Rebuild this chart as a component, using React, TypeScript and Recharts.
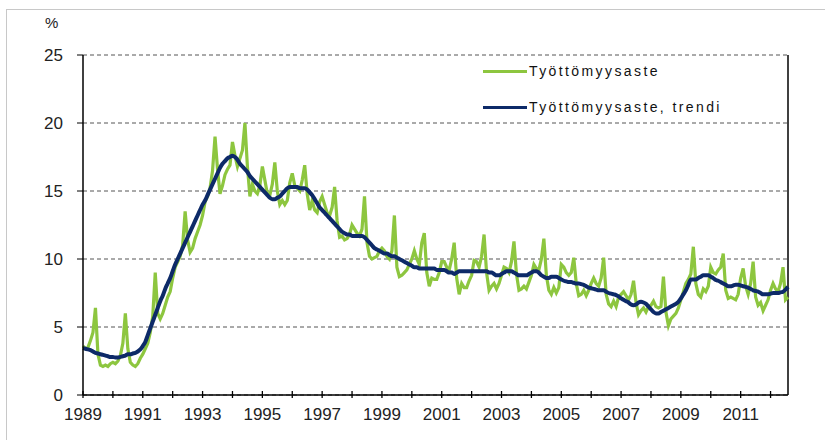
import { LineChart, Line, XAxis, YAxis, CartesianGrid, Legend, ReferenceLine } from "recharts";

// monthly series, Jan 1989 - Aug 2012
const startYear = 1989;

const yearTicks = [
  1989, 1990, 1991, 1992, 1993, 1994, 1995, 1996, 1997, 1998, 1999, 2000,
  2001, 2002, 2003, 2004, 2005, 2006, 2007, 2008, 2009, 2010, 2011, 2012,
];
const yearLabels = [1989, 1991, 1993, 1995, 1997, 1999, 2001, 2003, 2005, 2007, 2009, 2011];
const yTicks = [0, 5, 10, 15, 20, 25];

const rate = [
  3.6, 3.4, 3.5, 4.0, 4.6, 6.4, 3.0, 2.2, 2.1, 2.2, 2.1, 2.3, // 1989
  2.4, 2.3, 2.5, 2.9, 3.8, 6.0, 3.4, 2.4, 2.2, 2.1, 2.3, 2.7, // 1990
  3.0, 3.4, 3.8, 4.6, 5.8, 9.0, 6.0, 5.6, 6.0, 6.6, 7.2, 7.6, // 1991
  8.6, 9.4, 9.8, 10.2, 11.0, 13.5, 11.4, 10.5, 10.8, 11.5, 12.0, 12.5, // 1992
  13.2, 14.2, 14.6, 15.2, 16.5, 19.0, 16.6, 14.8, 15.4, 16.2, 16.6, 16.9, // 1993
  18.6, 17.6, 16.8, 17.4, 18.0, 20.0, 16.8, 14.6, 15.5, 15.0, 14.8, 15.4, // 1994
  16.8, 15.8, 14.8, 14.7, 15.5, 17.1, 15.0, 14.0, 14.3, 14.0, 14.3, 15.6, // 1995
  16.3, 15.4, 15.2, 15.0, 15.8, 16.9, 14.8, 13.6, 14.3, 13.6, 13.4, 14.2, // 1996
  14.6, 14.0, 13.4, 13.2, 13.8, 15.3, 12.8, 11.6, 11.7, 11.4, 11.5, 11.8, // 1997
  12.5, 12.2, 11.9, 11.7, 12.2, 14.6, 11.2, 10.2, 10.0, 10.1, 10.2, 10.6, // 1998
  10.8, 10.6, 10.2, 10.0, 10.6, 13.2, 9.4, 8.7, 8.8, 9.0, 9.2, 9.6, // 1999
  10.0, 10.6, 10.0, 9.6, 11.2, 11.9, 9.0, 8.0, 8.6, 8.5, 8.5, 9.0, // 2000
  9.8, 9.8, 9.4, 9.2, 10.0, 11.2, 8.6, 7.4, 8.2, 7.9, 7.9, 8.4, // 2001
  8.8, 9.9, 9.8, 9.4, 10.2, 11.8, 9.0, 7.7, 8.0, 8.2, 7.8, 8.2, // 2002
  8.8, 9.4, 9.3, 9.0, 9.8, 11.3, 8.9, 7.7, 7.8, 8.0, 7.8, 8.3, // 2003
  8.8, 9.6, 9.3, 9.2, 10.0, 11.5, 8.8, 7.7, 7.4, 7.9, 7.5, 7.9, // 2004
  9.6, 9.4, 9.0, 8.8, 9.0, 10.1, 8.2, 7.3, 7.4, 7.7, 7.3, 7.7, // 2005
  8.2, 8.6, 8.2, 8.0, 8.6, 10.1, 7.4, 6.7, 6.5, 6.9, 6.5, 7.2, // 2006
  7.4, 7.6, 7.3, 7.0, 7.4, 8.4, 6.8, 5.9, 6.2, 6.4, 6.1, 6.5, // 2007
  6.6, 6.9, 6.5, 6.4, 6.5, 8.7, 6.1, 5.1, 5.6, 5.8, 6.0, 6.4, // 2008
  7.0, 7.6, 8.2, 8.5, 8.9, 10.9, 8.2, 7.4, 7.2, 7.8, 7.6, 8.0, // 2009
  9.4, 9.0, 8.9, 9.2, 9.4, 10.4, 7.7, 7.1, 7.2, 7.1, 7.0, 7.4, // 2010
  8.6, 9.3, 8.0, 7.4, 8.2, 9.8, 7.2, 6.6, 6.8, 6.2, 6.6, 7.0, // 2011
  7.7, 8.2, 7.8, 7.6, 8.2, 9.4, 7.0, 7.2, // 2012
];

const trend = [
  3.45, 3.4, 3.35, 3.3, 3.2, 3.1, 3.05, 3.0, 2.95, 2.9, 2.85, 2.8, // 1989
  2.8, 2.75, 2.75, 2.8, 2.85, 2.9, 3.0, 3.0, 3.05, 3.1, 3.2, 3.35, // 1990
  3.6, 3.9, 4.4, 4.9, 5.4, 5.9, 6.4, 6.9, 7.3, 7.8, 8.2, 8.6, // 1991
  9.1, 9.6, 10.0, 10.4, 10.8, 11.2, 11.6, 12.0, 12.4, 12.8, 13.2, 13.6, // 1992
  14.0, 14.3, 14.7, 15.1, 15.5, 15.9, 16.3, 16.7, 17.0, 17.2, 17.4, 17.5, // 1993
  17.6, 17.5, 17.3, 17.0, 16.8, 16.6, 16.4, 16.1, 15.9, 15.7, 15.5, 15.3, // 1994
  15.1, 14.9, 14.7, 14.5, 14.4, 14.4, 14.5, 14.6, 14.8, 15.0, 15.2, 15.3, // 1995
  15.3, 15.3, 15.3, 15.2, 15.2, 15.2, 15.1, 14.9, 14.7, 14.4, 14.1, 13.8, // 1996
  13.6, 13.4, 13.2, 13.0, 12.8, 12.6, 12.4, 12.2, 12.0, 11.9, 11.8, 11.8, // 1997
  11.7, 11.7, 11.7, 11.7, 11.7, 11.6, 11.4, 11.2, 11.0, 10.8, 10.7, 10.6, // 1998
  10.5, 10.4, 10.4, 10.3, 10.2, 10.2, 10.1, 10.0, 9.9, 9.8, 9.7, 9.6, // 1999
  9.5, 9.4, 9.4, 9.3, 9.3, 9.3, 9.3, 9.3, 9.3, 9.3, 9.2, 9.2, // 2000
  9.2, 9.2, 9.1, 9.0, 9.0, 8.9, 9.0, 9.1, 9.1, 9.1, 9.1, 9.1, // 2001
  9.1, 9.1, 9.1, 9.1, 9.1, 9.1, 9.1, 9.0, 9.0, 8.9, 8.8, 8.8, // 2002
  8.9, 9.0, 9.1, 9.1, 9.1, 9.0, 8.9, 8.8, 8.8, 8.8, 8.8, 8.9, // 2003
  9.0, 9.1, 9.1, 9.0, 8.8, 8.7, 8.6, 8.6, 8.7, 8.7, 8.7, 8.6, // 2004
  8.5, 8.4, 8.35, 8.3, 8.3, 8.25, 8.2, 8.2, 8.15, 8.1, 8.0, 7.9, // 2005
  7.85, 7.8, 7.75, 7.7, 7.7, 7.7, 7.6, 7.5, 7.45, 7.4, 7.35, 7.25, // 2006
  7.1, 7.0, 6.9, 6.8, 6.65, 6.6, 6.65, 6.8, 6.85, 6.8, 6.7, 6.5, // 2007
  6.3, 6.1, 6.0, 6.0, 6.1, 6.2, 6.3, 6.4, 6.5, 6.6, 6.7, 6.85, // 2008
  7.1, 7.4, 7.7, 8.1, 8.5, 8.5, 8.5, 8.6, 8.7, 8.8, 8.8, 8.8, // 2009
  8.7, 8.6, 8.45, 8.4, 8.3, 8.2, 8.1, 8.0, 8.0, 8.05, 8.1, 8.1, // 2010
  8.05, 8.0, 7.95, 7.9, 7.8, 7.7, 7.65, 7.6, 7.5, 7.4, 7.4, 7.4, // 2011
  7.45, 7.5, 7.5, 7.5, 7.55, 7.6, 7.75, 7.95, // 2012
];

const data = rate.map((v, i) => ({ m: i, rate: v, trend: trend[i] }));
const lastMonth = data.length - 1;

const GREEN = "#8DC63F";
const NAVY = "#0D2A68";
const FONT = "'Liberation Sans', Arial, sans-serif";

const YearTick = ({ x, y, payload }: any) => {
  const year = startYear + payload.value / 12;
  return (
    <g>
      <line x1={x} x2={x} y1={y - 4} y2={y + 3} stroke="#000" strokeWidth={1.3} />
      {yearLabels.includes(year) && (
        <text x={x} y={y + 25} textAnchor="middle" fontSize={17} fontFamily={FONT} fill="#222">
          {year}
        </text>
      )}
    </g>
  );
};

const LegendBox = () => {
  const items = [
    { name: "Työttömyysaste", color: GREEN },
    { name: "Työttömyysaste, trendi", color: NAVY },
  ];
  return (
    <div style={{ fontFamily: FONT }}>
      {items.map((it, i) => (
        <div key={it.name} style={{ display: "flex", alignItems: "center", height: 18, marginTop: i ? 18 : 0 }}>
          <span style={{ display: "inline-block", width: 44, height: 3, background: it.color }} />
          <span style={{ fontSize: 14, letterSpacing: 2.4, color: "#111", marginLeft: 2 }}>{it.name}</span>
        </div>
      ))}
    </div>
  );
};

export default function App() {
  return (
    <div style={{ position: "absolute", left: 0, top: 0, width: 825, height: 440, background: "#fff" }}>
      <div
        style={{
          position: "absolute",
          left: 6,
          top: 9,
          right: 0,
          bottom: 0,
          borderTop: "1px solid #c8c8c8",
          borderLeft: "1px solid #c8c8c8",
        }}
      />
      <div style={{ position: "absolute", left: 45, top: 14, fontSize: 15, fontFamily: FONT, color: "#222" }}>%</div>
      <LineChart
        width={825}
        height={440}
        data={data}
        margin={{ top: 55, right: 37, bottom: 0, left: 0 }}
        style={{ position: "absolute", left: 0, top: 0 }}
      >
        <CartesianGrid vertical={false} stroke="#555" strokeDasharray="4 3" />
        <XAxis
          type="number"
          dataKey="m"
          domain={[0, lastMonth]}
          ticks={yearTicks.map((y) => (y - startYear) * 12)}
          interval={0}
          height={45}
          tickSize={0}
          tickMargin={0}
          tickLine={false}
          tick={<YearTick />}
          axisLine={{ stroke: "#000", strokeWidth: 1.5 }}
        />
        <YAxis
          width={83}
          domain={[0, 25]}
          ticks={yTicks}
          interval={0}
          tickSize={6}
          tickMargin={14}
          tickLine={{ stroke: "#000" }}
          axisLine={{ stroke: "#000", strokeWidth: 1.5 }}
          tick={{ fontSize: 17, fontFamily: FONT, fill: "#222" }}
        />
        <ReferenceLine x={lastMonth} stroke="#000" strokeWidth={1.5} />
        <Legend
          layout="horizontal"
          verticalAlign="middle"
          align="center"
          content={<LegendBox />}
          wrapperStyle={{ left: 483, top: 62, width: 320, height: 60 }}
        />
        <Line
          type="linear"
          dataKey="rate"
          name="Työttömyysaste"
          stroke={GREEN}
          strokeWidth={3.2}
          dot={false}
          isAnimationActive={false}
        />
        <Line
          type="monotone"
          dataKey="trend"
          name="Työttömyysaste, trendi"
          stroke={NAVY}
          strokeWidth={4}
          dot={false}
          isAnimationActive={false}
        />
      </LineChart>
    </div>
  );
}
